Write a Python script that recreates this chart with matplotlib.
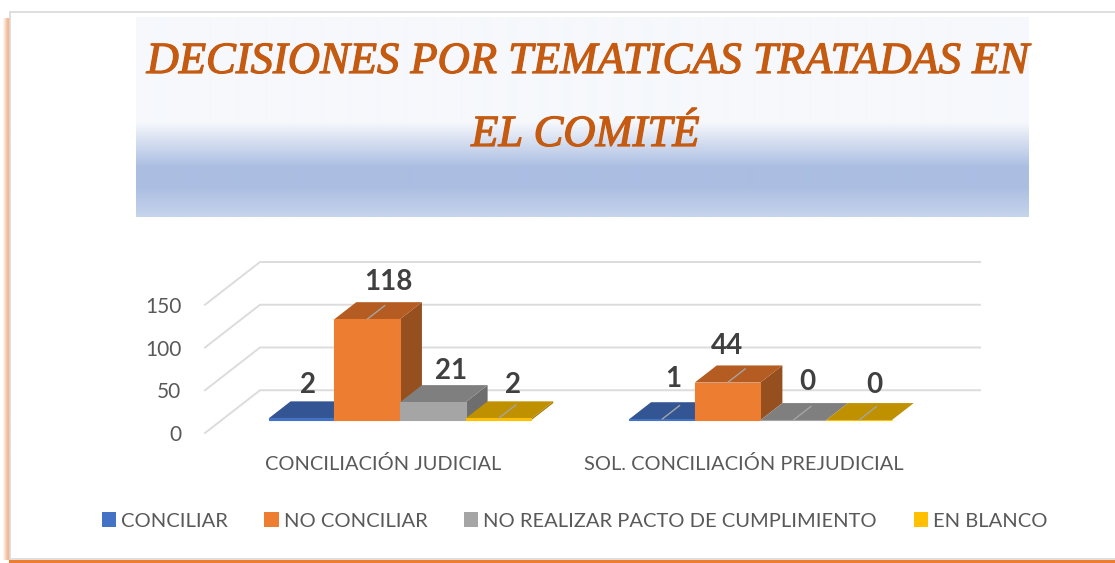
import numpy as np
import matplotlib
matplotlib.use('Agg')
import matplotlib.pyplot as plt
import matplotlib.patheffects as pe
from matplotlib.colors import to_rgb
from matplotlib.patches import Patch, Polygon, Rectangle

categorias = ['CONCILIACIÓN JUDICIAL', 'SOL. CONCILIACIÓN PREJUDICIAL']
series = ['CONCILIAR', 'NO CONCILIAR', 'NO REALIZAR PACTO DE CUMPLIMIENTO', 'EN BLANCO']
conciliar = [2, 1]
no_conciliar = [118, 44]
no_realizar = [21, 0]
en_blanco = [2, 0]
valores = [conciliar, no_conciliar, no_realizar, en_blanco]
ticks_y = [0, 50, 100, 150]
titulo = ['DECISIONES POR TEMATICAS TRATADAS EN', 'EL COMITÉ']

col_frente = ['#4472c4', '#ed7d31', '#a5a5a5', '#ffc000']
col_tapa = ['#335593', '#b45c22', '#7f7f7f', '#bf9000']
col_lado = ['#2a4a80', '#964f1e', '#6e6e6e', '#a67c00']

W, H = 1115, 563
ANCHO = 0.1822
DX, DV = 0.1526, 50     # un paso de profundidad en x y en valor
D0, D1 = 0.3, 0.7       # profundidad de frente y fondo de las barras


def proy(x, v, d):
  return x + d * DX, v + d * DV


def pos(x0, y0, x1, y1):
  return [x0 / W, 1 - y1 / H, (x1 - x0) / W, (y1 - y0) / H]


def gradiente(stops, n=200):
  ys = np.linspace(0, 1, n)
  rgb = [np.interp(ys, [s[0] for s in stops], [to_rgb(s[1])[k] for s in stops]) for k in range(3)]
  return np.dstack(rgb).reshape(n, 1, 3)


fig = plt.figure(figsize=(W / 100, H / 100), dpi=100, facecolor='white')
plt.rcParams['font.family'] = ['Lato', 'DejaVu Sans']

# fondo: tarjeta, brillo naranja y caja del titulo
bg = fig.add_axes([0, 0, 1, 1])
bg.axis('off')
brillo = np.ones((1, 8, 4))
brillo[..., :3] = to_rgb('#ed7d31')
brillo[..., 3] = np.array([0, .08, .18, .3, .42, .5, .55, .55])
bg.imshow(brillo, extent=(2, 10, 560, 18), aspect='auto', interpolation='bilinear', zorder=1)
bg.add_patch(Rectangle((9, 559.5), W - 9, 4, fc='#ed7d31', ec='none', zorder=1))
bg.add_patch(Rectangle((10, 12), W + 5, 547, fc='white', ec='#d9d9d9', lw=1.2, zorder=2))
stops = [(0, '#f6f8fc'), (0.525, '#f6f8fc'), (0.75, '#abbee2'), (0.85, '#abbee2'), (1, '#c6d4ec')]
bg.imshow(gradiente(stops), extent=(136, 1029, 217, 17), aspect='auto', interpolation='bilinear', zorder=3)
bg.set_xlim(0, W)
bg.set_ylim(H, 0)

for linea, x_t, y_t in zip(titulo, [588.5, 585.5], [73, 146]):
  bg.text(x_t, y_t, linea, ha='center', va='baseline', color='#c55a11', fontsize=32.1, zorder=4,
          family='Liberation Serif', style='italic',
          path_effects=[pe.withStroke(linewidth=0.9, foreground='#c55a11')])

# grafica
ax = fig.add_axes(pos(205, 262, 980, 433))
ax.patch.set_alpha(0)
ax.set_xlim(-0.495, 1.655)
ax.set_ylim(0, 200)
for s in ax.spines.values():
  s.set_visible(False)

for t in ticks_y:
  xa, ya = proy(-0.495, t, 0)
  xb, yb = proy(-0.495, t, 1)
  ax.plot([xa, xb, 1.655], [ya, yb, yb], color='#dcdcdc', lw=1.4, clip_on=False, zorder=1)

for i in range(len(categorias)):
  for j, vals in enumerate(valores):
    v = vals[i]
    izq = i + (j - 2) * ANCHO
    der = izq + ANCHO
    frente = [proy(izq, 0, D0), proy(der, 0, D0), proy(der, v, D0), proy(izq, v, D0)]
    tapa = [proy(izq, v, D0), proy(der, v, D0), proy(der, v, D1), proy(izq, v, D1)]
    lado = [proy(der, 0, D0), proy(der, 0, D1), proy(der, v, D1), proy(der, v, D0)]
    z = 3 + i * 10 + j
    ax.add_patch(Polygon(lado, fc=col_lado[j], ec='none', zorder=z))
    ax.add_patch(Polygon(tapa, fc=col_tapa[j], ec='none', zorder=z))
    ax.add_patch(Polygon(frente, fc=col_frente[j], ec=col_frente[j], lw=0.8, zorder=z))

# etiquetas de datos, movidas a mano como en el original (px desde el fondo de la barra)
desplaz = [[(-4, 25), (10, 29), (7, 23), (4, 25)],
           [(0, 32), (-12, 28), (3, 30), (4, 27)]]
con_guia = [[False, True, False, True], [True, True, True, True]]
for i in range(len(categorias)):
  for j, vals in enumerate(valores):
    v = vals[i]
    xc = i + (j - 1.5) * ANCHO
    if con_guia[i][j]:
      xa, ya = proy(xc, v, D0)
      xb, yb = proy(xc, v, 0.63)
      ax.plot([xa, xb], [ya, yb], color='#a5a5a5', lw=1.0, zorder=40, solid_capstyle='butt')
    ax.annotate(str(v), proy(xc, v, 0.5), xytext=desplaz[i][j], textcoords='offset pixels',
                ha='center', va='center', fontsize=20, fontweight='bold', color='#404040', zorder=50)

ax.set_yticks(ticks_y)
ax.set_xticks(range(len(categorias)))
ax.set_xticklabels(categorias)
ax.tick_params(axis='y', length=0, pad=17, labelsize=15, labelcolor='#595959')
ax.tick_params(axis='x', length=0, pad=16, labelsize=14.4, labelcolor='#595959')

handles = [Patch(fc=c, ec='none', label=n) for c, n in zip(col_frente, series)]
fig.legend(handles=handles, loc='center', bbox_to_anchor=(574.5 / W, 1 - 521 / H), ncol=4, frameon=False,
           fontsize=14.5, labelcolor='#595959', handlelength=0.7, handleheight=0.7,
           handletextpad=0.25, columnspacing=1.83, borderpad=0)

fig.savefig('out.png', dpi=100)
